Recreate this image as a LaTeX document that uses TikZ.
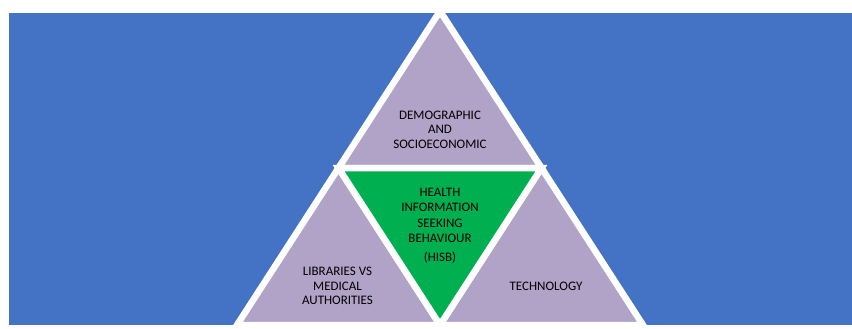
\documentclass[tikz,border=0pt]{standalone}
\usepackage{fontspec}
\setmainfont{Carlito}
\usetikzlibrary{calc}
\definecolor{bgblue}{HTML}{4472C4}
\definecolor{lilac}{HTML}{B1A2C8}
\definecolor{hgreen}{HTML}{00B050}
\definecolor{txt}{HTML}{000000}
\begin{document}
\begin{tikzpicture}[x=1pt,y=-1pt,
  tri/.style={draw=white,line width=6.5pt,line join=miter,miter limit=10},
  lbl/.style={inner sep=0pt,align=center,text=txt,font=\fontsize{13}{14.5}\selectfont}]
\useasboundingbox (0,0) rectangle (852,329);
\fill[bgblue] (9,13) rectangle (852,325);
\coordinate (A) at (440,11);
\coordinate (B) at (237,325);
\coordinate (C) at (643,325);
\coordinate (AB) at ($(A)!0.5!(B)$);
\coordinate (AC) at ($(A)!0.5!(C)$);
\coordinate (BC) at ($(B)!0.5!(C)$);
\filldraw[tri,fill=lilac] (A) -- (AB) -- (AC) -- cycle;
\filldraw[tri,fill=lilac] (AB) -- (B) -- (BC) -- cycle;
\filldraw[tri,fill=lilac] (AC) -- (BC) -- (C) -- cycle;
\filldraw[tri,fill=hgreen] (AB) -- (AC) -- (BC) -- cycle;
\node[lbl] (demo) at (440,129.5) {DEMOGRAPHIC\\AND\\SOCIOECONOMIC};
\node[lbl,font=\fontsize{13}{15.3}\selectfont] (hisb) at (440,226) {HEALTH\\INFORMATION\\SEEKING\\BEHAVIOUR\\[4pt](HISB)};
\node[lbl] (lib) at (337.5,286) {LIBRARIES VS\\MEDICAL\\AUTHORITIES};
\node[lbl] (tech) at (546,286) {TECHNOLOGY};
\end{tikzpicture}
\end{document}
